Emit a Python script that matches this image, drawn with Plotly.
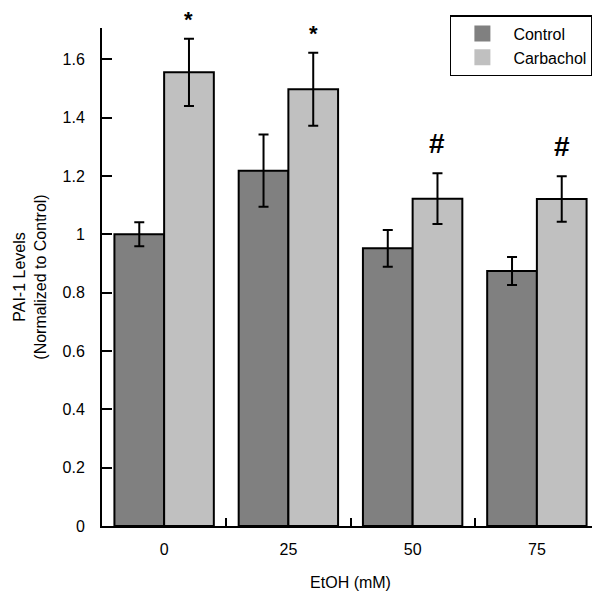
import plotly.graph_objects as go

categories = ["0", "25", "50", "75"]
control = [1.00, 1.218, 0.952, 0.874]
control_err = [0.041, 0.124, 0.063, 0.048]
carbachol = [1.555, 1.497, 1.122, 1.121]
carbachol_err = [0.115, 0.125, 0.087, 0.078]
marks = ["*", "*", "#", "#"]

FONT = "Arial, Liberation Sans, sans-serif"
DARK = "#808080"
LIGHT = "#c0c0c0"

fig = go.Figure()
fig.add_trace(go.Bar(
    x=categories, y=control, name="Control", showlegend=False,
    marker=dict(color=DARK, line=dict(color="black", width=2)),
    error_y=dict(type="data", array=control_err, color="black", thickness=2, width=5),
))
fig.add_trace(go.Bar(
    x=categories, y=carbachol, name="Carbachol", showlegend=False,
    marker=dict(color=LIGHT, line=dict(color="black", width=2)),
    error_y=dict(type="data", array=carbachol_err, color="black", thickness=2, width=5),
))
# legend-only entries (plain square swatches)
for nm, col in [("Control", DARK), ("Carbachol", LIGHT)]:
    fig.add_trace(go.Scatter(x=[None], y=[None], mode="markers", name=nm,
                             marker=dict(symbol="square", size=16, color=col)))

for i, (v, e, m) in enumerate(zip(carbachol, carbachol_err, marks)):
    size = 22 if m == "*" else 28
    fig.add_annotation(x=i + 0.2, y=v + e, xref="x", yref="y", text="<b>%s</b>" % m,
                       showarrow=False, yanchor="bottom",
                       yshift=5 if m == "*" else 12,
                       font=dict(family=FONT, size=size, color="black"))

# the page body adds an 8px offset, so the figure is 592x583 starting at (8,8)
fig.update_layout(
    width=592, height=583,
    margin=dict(l=94, r=1, t=20, b=65),
    barmode="group", bargap=0.2, bargroupgap=0,
    plot_bgcolor="white", paper_bgcolor="white",
    font=dict(family=FONT, size=16, color="black"),
    legend=dict(x=0.70, y=1.026, xanchor="left", yanchor="top",
                bordercolor="black", borderwidth=1.5, bgcolor="white",
                font=dict(size=16), itemwidth=52, tracegroupgap=0,
                entrywidth=104, entrywidthmode="pixels"),
    xaxis=dict(type="category", range=[-0.5, 3.5], showline=True, linecolor="black",
               linewidth=2, ticks="inside", tickson="boundaries", ticklen=8,
               tickwidth=2, tickcolor="black", ticklabelstandoff=8, automargin=False,
               title=dict(text="EtOH (mM)", standoff=20, font=dict(size=16)),
               showgrid=False, zeroline=False),
    yaxis=dict(range=[0, 1.707], showline=True, linecolor="black", linewidth=2,
               ticks="inside", ticklen=10, tickwidth=2, tickcolor="black",
               tickvals=[0, 0.2, 0.4, 0.6, 0.8, 1.0, 1.2, 1.4, 1.6],
               ticktext=["0", "0.2", "0.4", "0.6", "0.8", "1", "1.2", "1.4", "1.6"],
               ticklabelstandoff=12, automargin=False,
               title=dict(text="PAI-1 Levels<br>(Normalized to Control)", standoff=12,
                          font=dict(size=16)),
               showgrid=False, zeroline=False),
)

fig.write_html("out.html")
